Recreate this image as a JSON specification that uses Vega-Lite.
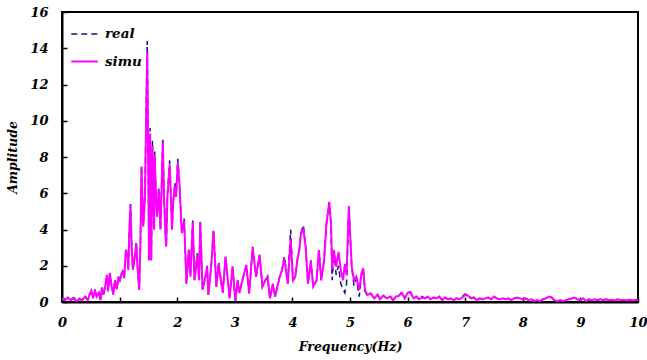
{
  "$schema": "https://vega.github.io/schema/vega-lite/v6.json",
  "width": 576,
  "height": 290,
  "autosize": {"type": "none"},
  "padding": {"left": 62, "top": 12, "right": 9, "bottom": 58},
  "background": "white",
  "config": {
    "view": {"stroke": "black", "strokeWidth": 2},
    "font": "DejaVu Serif"
  },
  "data": {
    "values": [
      {"f":0.00,"real":0.2,"simu":0.2},{"f":0.05,"real":0.15,"simu":0.1},{"f":0.10,"real":0.2,"simu":0.25},{"f":0.15,"real":0.1,"simu":0.1},
      {"f":0.20,"real":0.25,"simu":0.2},{"f":0.25,"real":0.1,"simu":0.05},{"f":0.30,"real":0.2,"simu":0.15},{"f":0.35,"real":0.1,"simu":0.1},
      {"f":0.40,"real":0.35,"simu":0.3},{"f":0.45,"real":0.1,"simu":0.1},{"f":0.48,"real":0.4,"simu":0.45},{"f":0.51,"real":0.65,"simu":0.62},
      {"f":0.54,"real":0.25,"simu":0.2},{"f":0.57,"real":0.7,"simu":0.66},{"f":0.60,"real":0.3,"simu":0.3},{"f":0.64,"real":0.5,"simu":0.5},
      {"f":0.67,"real":0.15,"simu":0.1},{"f":0.69,"real":0.8,"simu":0.77},{"f":0.72,"real":0.4,"simu":0.4},{"f":0.75,"real":0.85,"simu":0.9},
      {"f":0.78,"real":1.5,"simu":1.5},{"f":0.80,"real":0.6,"simu":0.6},{"f":0.83,"real":1.6,"simu":1.6},{"f":0.86,"real":0.9,"simu":0.9},
      {"f":0.89,"real":0.45,"simu":0.4},{"f":0.92,"real":1.2,"simu":1.2},{"f":0.95,"real":0.7,"simu":0.7},{"f":0.98,"real":1.4,"simu":1.4},
      {"f":1.00,"real":1.1,"simu":1.1},{"f":1.03,"real":1.5,"simu":1.5},{"f":1.06,"real":1.8,"simu":1.77},{"f":1.08,"real":1.3,"simu":1.3},
      {"f":1.11,"real":2.9,"simu":2.9},{"f":1.14,"real":2.5,"simu":2.5},{"f":1.15,"real":1.77,"simu":1.77},{"f":1.17,"real":4.0,"simu":4.0},
      {"f":1.19,"real":5.4,"simu":5.35},{"f":1.21,"real":3.0,"simu":3.0},{"f":1.23,"real":1.8,"simu":1.77},{"f":1.26,"real":2.4,"simu":2.4},
      {"f":1.29,"real":3.3,"simu":3.25},{"f":1.31,"real":2.0,"simu":2.0},{"f":1.34,"real":0.7,"simu":0.66},{"f":1.36,"real":3.0,"simu":3.0},
      {"f":1.38,"real":7.5,"simu":7.47},{"f":1.41,"real":4.2,"simu":4.15},{"f":1.44,"real":5.8,"simu":5.8},{"f":1.46,"real":10.3,"simu":10.0},
      {"f":1.48,"real":14.4,"simu":13.8},{"f":1.50,"real":6.6,"simu":6.5},{"f":1.51,"real":2.3,"simu":2.3},{"f":1.53,"real":9.6,"simu":9.3},
      {"f":1.55,"real":2.3,"simu":2.3},{"f":1.57,"real":8.9,"simu":8.6},{"f":1.60,"real":4.0,"simu":4.0},{"f":1.61,"real":8.3,"simu":8.1},
      {"f":1.63,"real":6.0,"simu":6.0},{"f":1.65,"real":4.7,"simu":4.7},{"f":1.68,"real":6.3,"simu":6.2},{"f":1.71,"real":4.0,"simu":4.0},
      {"f":1.75,"real":9.0,"simu":8.8},{"f":1.77,"real":6.0,"simu":6.0},{"f":1.79,"real":4.15,"simu":4.15},{"f":1.81,"real":3.05,"simu":3.05},
      {"f":1.83,"real":5.9,"simu":5.8},{"f":1.87,"real":7.8,"simu":7.6},{"f":1.91,"real":4.0,"simu":4.0},{"f":1.93,"real":5.5,"simu":5.5},
      {"f":1.96,"real":6.6,"simu":6.4},{"f":1.98,"real":5.8,"simu":5.8},{"f":2.01,"real":7.9,"simu":7.7},{"f":2.04,"real":6.5,"simu":6.5},
      {"f":2.08,"real":3.8,"simu":3.8},{"f":2.12,"real":4.6,"simu":4.5},{"f":2.16,"real":1.0,"simu":1.0},{"f":2.20,"real":2.9,"simu":2.87},
      {"f":2.23,"real":1.4,"simu":1.4},{"f":2.27,"real":4.5,"simu":4.4},{"f":2.30,"real":1.2,"simu":1.2},{"f":2.35,"real":2.7,"simu":2.6},
      {"f":2.38,"real":1.2,"simu":1.2},{"f":2.40,"real":4.5,"simu":4.4},{"f":2.44,"real":0.66,"simu":0.66},{"f":2.49,"real":1.4,"simu":1.4},
      {"f":2.52,"real":2.0,"simu":1.95},{"f":2.54,"real":0.4,"simu":0.39},{"f":2.59,"real":1.95,"simu":1.95},{"f":2.63,"real":4.0,"simu":3.9},
      {"f":2.68,"real":0.85,"simu":0.85},{"f":2.72,"real":2.2,"simu":2.1},{"f":2.75,"real":1.4,"simu":1.4},{"f":2.79,"real":0.5,"simu":0.5},
      {"f":2.84,"real":2.5,"simu":2.5},{"f":2.91,"real":0.2,"simu":0.2},{"f":2.96,"real":1.95,"simu":1.95},{"f":3.01,"real":0.1,"simu":0.1},
      {"f":3.05,"real":1.2,"simu":1.2},{"f":3.08,"real":0.5,"simu":0.5},{"f":3.14,"real":1.3,"simu":1.3},{"f":3.20,"real":2.04,"simu":2.04},
      {"f":3.25,"real":0.48,"simu":0.48},{"f":3.31,"real":3.05,"simu":3.0},{"f":3.37,"real":1.4,"simu":1.4},{"f":3.43,"real":2.6,"simu":2.6},
      {"f":3.48,"real":0.85,"simu":0.85},{"f":3.53,"real":1.2,"simu":1.2},{"f":3.57,"real":1.4,"simu":1.4},{"f":3.61,"real":0.2,"simu":0.2},
      {"f":3.66,"real":1.0,"simu":1.0},{"f":3.70,"real":0.3,"simu":0.3},{"f":3.74,"real":0.85,"simu":0.85},{"f":3.78,"real":1.4,"simu":1.4},
      {"f":3.82,"real":1.77,"simu":1.77},{"f":3.86,"real":2.5,"simu":2.4},{"f":3.92,"real":1.2,"simu":1.0},{"f":3.97,"real":4.0,"simu":3.5},
      {"f":4.01,"real":1.2,"simu":1.2},{"f":4.05,"real":1.4,"simu":1.4},{"f":4.09,"real":2.4,"simu":2.4},{"f":4.12,"real":2.9,"simu":2.87},
      {"f":4.15,"real":3.8,"simu":3.8},{"f":4.19,"real":4.25,"simu":4.0},{"f":4.23,"real":3.05,"simu":3.05},{"f":4.27,"real":1.0,"simu":1.0},
      {"f":4.32,"real":2.3,"simu":2.3},{"f":4.36,"real":0.85,"simu":0.85},{"f":4.42,"real":1.2,"simu":1.2},{"f":4.46,"real":2.87,"simu":2.87},
      {"f":4.50,"real":1.2,"simu":1.2},{"f":4.55,"real":2.3,"simu":2.3},{"f":4.59,"real":4.3,"simu":4.3},{"f":4.64,"real":5.5,"simu":5.53},
      {"f":4.67,"real":4.3,"simu":4.3},{"f":4.69,"real":1.2,"simu":1.8},{"f":4.72,"real":2.8,"simu":2.87},{"f":4.76,"real":1.5,"simu":1.95},
      {"f":4.80,"real":2.0,"simu":2.77},{"f":4.84,"real":1.0,"simu":1.77},{"f":4.88,"real":0.7,"simu":1.2},{"f":4.91,"real":0.5,"simu":2.1},
      {"f":4.94,"real":1.0,"simu":1.5},{"f":4.98,"real":5.2,"simu":5.3},{"f":5.03,"real":1.9,"simu":1.95},{"f":5.07,"real":0.9,"simu":1.2},
      {"f":5.11,"real":1.3,"simu":1.4},{"f":5.16,"real":0.3,"simu":0.66},{"f":5.20,"real":1.5,"simu":1.6},{"f":5.23,"real":1.8,"simu":1.86},
      {"f":5.26,"real":0.6,"simu":0.66},{"f":5.30,"real":0.35,"simu":0.39},{"f":5.36,"real":0.45,"simu":0.48},{"f":5.42,"real":0.2,"simu":0.2},
      {"f":5.48,"real":0.4,"simu":0.4},{"f":5.52,"real":0.15,"simu":0.15},{"f":5.58,"real":0.35,"simu":0.35},{"f":5.64,"real":0.2,"simu":0.2},
      {"f":5.70,"real":0.3,"simu":0.3},{"f":5.75,"real":0.1,"simu":0.1},{"f":5.80,"real":0.3,"simu":0.3},{"f":5.85,"real":0.35,"simu":0.35},
      {"f":5.90,"real":0.55,"simu":0.5},{"f":5.95,"real":0.2,"simu":0.2},{"f":6.00,"real":0.5,"simu":0.5},{"f":6.05,"real":0.55,"simu":0.55},
      {"f":6.10,"real":0.2,"simu":0.2},{"f":6.15,"real":0.3,"simu":0.3},{"f":6.20,"real":0.15,"simu":0.15},{"f":6.25,"real":0.3,"simu":0.25},
      {"f":6.30,"real":0.2,"simu":0.2},{"f":6.35,"real":0.3,"simu":0.3},{"f":6.40,"real":0.15,"simu":0.15},{"f":6.45,"real":0.25,"simu":0.25},
      {"f":6.50,"real":0.2,"simu":0.2},{"f":6.55,"real":0.3,"simu":0.3},{"f":6.60,"real":0.1,"simu":0.1},{"f":6.65,"real":0.25,"simu":0.25},
      {"f":6.70,"real":0.15,"simu":0.15},{"f":6.75,"real":0.2,"simu":0.2},{"f":6.80,"real":0.1,"simu":0.1},{"f":6.85,"real":0.2,"simu":0.2},
      {"f":6.90,"real":0.15,"simu":0.15},{"f":6.95,"real":0.3,"simu":0.25},{"f":7.00,"real":0.45,"simu":0.4},{"f":7.05,"real":0.35,"simu":0.35},
      {"f":7.10,"real":0.2,"simu":0.2},{"f":7.15,"real":0.25,"simu":0.25},{"f":7.20,"real":0.1,"simu":0.1},{"f":7.25,"real":0.2,"simu":0.2},
      {"f":7.30,"real":0.15,"simu":0.15},{"f":7.35,"real":0.2,"simu":0.2},{"f":7.40,"real":0.25,"simu":0.25},{"f":7.45,"real":0.15,"simu":0.15},
      {"f":7.50,"real":0.3,"simu":0.3},{"f":7.55,"real":0.2,"simu":0.2},{"f":7.60,"real":0.15,"simu":0.15},{"f":7.65,"real":0.2,"simu":0.2},
      {"f":7.70,"real":0.15,"simu":0.15},{"f":7.75,"real":0.2,"simu":0.2},{"f":7.80,"real":0.1,"simu":0.1},{"f":7.85,"real":0.2,"simu":0.2},
      {"f":7.90,"real":0.25,"simu":0.25},{"f":7.95,"real":0.2,"simu":0.2},{"f":8.00,"real":0.15,"simu":0.15},{"f":8.05,"real":0.2,"simu":0.2},
      {"f":8.10,"real":0.1,"simu":0.1},{"f":8.15,"real":0.15,"simu":0.15},{"f":8.20,"real":0.05,"simu":0.05},{"f":8.25,"real":0.1,"simu":0.1},
      {"f":8.30,"real":0.05,"simu":0.05},{"f":8.35,"real":0.15,"simu":0.15},{"f":8.40,"real":0.2,"simu":0.2},{"f":8.45,"real":0.3,"simu":0.3},
      {"f":8.50,"real":0.25,"simu":0.25},{"f":8.55,"real":0.1,"simu":0.1},{"f":8.60,"real":0.05,"simu":0.05},{"f":8.65,"real":0.1,"simu":0.1},
      {"f":8.70,"real":0.05,"simu":0.05},{"f":8.75,"real":0.1,"simu":0.1},{"f":8.80,"real":0.15,"simu":0.15},{"f":8.85,"real":0.2,"simu":0.2},
      {"f":8.90,"real":0.25,"simu":0.25},{"f":8.95,"real":0.15,"simu":0.15},{"f":9.00,"real":0.1,"simu":0.1},{"f":9.05,"real":0.2,"simu":0.2},
      {"f":9.10,"real":0.05,"simu":0.05},{"f":9.15,"real":0.15,"simu":0.15},{"f":9.20,"real":0.1,"simu":0.1},{"f":9.25,"real":0.15,"simu":0.15},
      {"f":9.30,"real":0.1,"simu":0.1},{"f":9.35,"real":0.15,"simu":0.15},{"f":9.40,"real":0.1,"simu":0.1},{"f":9.45,"real":0.15,"simu":0.15},
      {"f":9.50,"real":0.1,"simu":0.1},{"f":9.55,"real":0.12,"simu":0.12},{"f":9.60,"real":0.08,"simu":0.08},{"f":9.65,"real":0.15,"simu":0.15},
      {"f":9.70,"real":0.1,"simu":0.1},{"f":9.75,"real":0.12,"simu":0.12},{"f":9.80,"real":0.08,"simu":0.08},{"f":9.85,"real":0.12,"simu":0.12},
      {"f":9.90,"real":0.1,"simu":0.1},{"f":9.95,"real":0.12,"simu":0.12},{"f":10.00,"real":0.1,"simu":0.1}
    ]
  },
  "transform": [{"fold": ["real", "simu"], "as": ["series", "amp"]}],
  "mark": {"type": "line", "clip": true},
  "encoding": {
    "x": {
      "field": "f", "type": "quantitative",
      "scale": {"domain": [0, 10], "nice": false},
      "axis": {
        "values": [0,1,2,3,4,5,6,7,8,9,10],
        "title": "Frequency(Hz)",
        "grid": false,
        "domainColor": "black", "domainWidth": 2,
        "tickColor": "black", "tickSize": -5, "tickWidth": 1.5,
        "labelFont": "DejaVu Serif", "labelFontSize": 13, "labelFontWeight": "bold", "labelFontStyle": "italic",
        "labelColor": "black", "labelPadding": 19, "labelFlush": false,
        "titleFont": "DejaVu Serif", "titleFontSize": 12.5, "titleFontWeight": "bold", "titleFontStyle": "italic",
        "titleColor": "black", "titlePadding": 11
      }
    },
    "y": {
      "field": "amp", "type": "quantitative",
      "scale": {"domain": [0, 16], "nice": false},
      "axis": {
        "values": [0,2,4,6,8,10,12,14,16],
        "title": "Amplitude",
        "grid": false,
        "domainColor": "black", "domainWidth": 2,
        "tickColor": "black", "tickSize": -5, "tickWidth": 1.5,
        "labelFont": "DejaVu Serif", "labelFontSize": 13, "labelFontWeight": "bold", "labelFontStyle": "italic",
        "labelColor": "black", "labelPadding": 19,
        "titleFont": "DejaVu Serif", "titleFontSize": 12.5, "titleFontWeight": "bold", "titleFontStyle": "italic",
        "titleColor": "black", "titlePadding": 10
      }
    },
    "color": {
      "field": "series", "type": "nominal",
      "scale": {"domain": ["real", "simu"], "range": ["#10107a", "#ff00ff"]},
      "legend": {
        "title": null, "orient": "none", "legendX": 8, "legendY": 8,
        "symbolType": "stroke", "symbolSize": 700, "symbolStrokeWidth": 2,
        "labelFont": "DejaVu Serif", "labelFontSize": 13.5, "labelFontWeight": "bold", "labelFontStyle": "italic",
        "labelColor": "black", "rowPadding": 6, "labelOffset": 6
      }
    },
    "strokeDash": {
      "field": "series", "type": "nominal",
      "scale": {"domain": ["real", "simu"], "range": [[6, 4], [1, 0]]},
      "legend": {
        "title": null, "orient": "none", "legendX": 8, "legendY": 8,
        "symbolType": "stroke", "symbolSize": 700, "symbolStrokeWidth": 2,
        "labelFont": "DejaVu Serif", "labelFontSize": 13.5, "labelFontWeight": "bold", "labelFontStyle": "italic",
        "labelColor": "black", "rowPadding": 6, "labelOffset": 6
      }
    },
    "strokeWidth": {
      "field": "series", "type": "nominal",
      "scale": {"domain": ["real", "simu"], "range": [1.5, 2]},
      "legend": null
    }
  }
}
